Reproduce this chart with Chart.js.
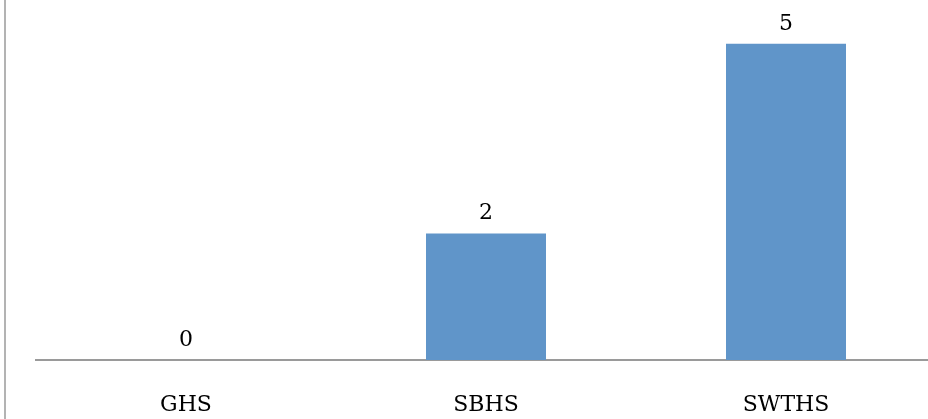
<!DOCTYPE html>
<html>
<head>
<meta charset="utf-8">
<script src="https://cdn.jsdelivr.net/npm/chart.js@4.4.0/dist/chart.umd.min.js"></script>
<style>
  html, body { margin: 0; padding: 0; background: #fff; overflow: hidden; width: 928px; height: 419px; }
  #frame { position: absolute; left: 4px; top: 0; width: 940px; height: 419px; border-left: 2px solid #b3b3b3; }
  #wrap { position: absolute; left: 0; top: 0; width: 930px; height: 419px; }
</style>
</head>
<body>
<div id="frame"><div id="wrap"><canvas id="c"></canvas></div></div>
<script>
const categories = ["GHS", "SBHS", "SWTHS"];
const values = [0, 2, 5];
const seriesName = "Count";

const FONT = "'DejaVu Serif', 'Liberation Serif', serif";

const valueLabels = {
  id: 'valueLabels',
  afterDatasetsDraw(chart) {
    const ctx = chart.ctx;
    const meta = chart.getDatasetMeta(0);
    ctx.save();
    ctx.font = "22px " + FONT;
    ctx.fillStyle = "#000";
    ctx.textAlign = "center";
    ctx.textBaseline = "alphabetic";
    meta.data.forEach((bar, i) => {
      ctx.fillText(String(values[i]), bar.x, bar.y - 14);
    });
    ctx.restore();
  }
};

new Chart(document.getElementById('c'), {
  type: 'bar',
  data: {
    labels: categories,
    datasets: [{
      label: seriesName,
      data: values,
      backgroundColor: '#6095C9',
      borderWidth: 0,
      barPercentage: 0.4,
      categoryPercentage: 1.0
    }]
  },
  options: {
    responsive: true,
    maintainAspectRatio: false,
    animation: false,
    layout: { padding: { left: 30, right: 0, top: 0, bottom: 0 } },
    plugins: {
      legend: { display: false },
      tooltip: { enabled: false }
    },
    scales: {
      x: {
        grid: { display: false, drawTicks: false },
        border: { display: true, color: '#9a9a9a', width: 2 },
        ticks: { color: '#000', font: { family: FONT, size: 22 }, padding: 32 },
        afterFit(scale) { scale.height = 59; }
      },
      y: {
        display: false,
        min: 0,
        max: 5.69
      }
    }
  },
  plugins: [valueLabels]
});
</script>
</body>
</html>
